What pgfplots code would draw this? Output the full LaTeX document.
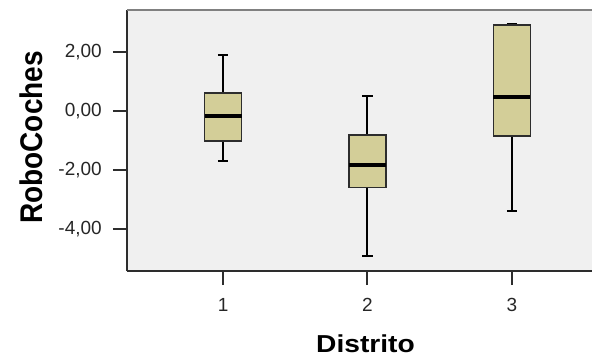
\documentclass[border=0pt]{standalone}
\usepackage{pgfplots}
\pgfplotsset{compat=1.18}
\usepgfplotslibrary{statistics}
\usepackage{fontspec}
\setmainfont{Liberation Sans}
\definecolor{bgc}{RGB}{240,240,240}
\definecolor{boxc}{RGB}{211,206,152}
\definecolor{edgec}{RGB}{45,45,45}
\begin{document}
\begin{tikzpicture}
\useasboundingbox (0,0) rectangle (592pt,-361pt);
\begin{axis}[
  at={(127pt,-271pt)}, anchor=south west,
  scale only axis, width=480.9pt, height=261pt,
  xmin=0.335, xmax=3.665, ymin=-5.44, ymax=3.445,
  separate axis lines,
  axis x line*=bottom, axis y line*=left,
  axis line style={line width=2.5pt, color=edgec},
  axis background/.style={fill=bgc},
  xtick={1,2,3}, ytick={-4,-2,0,2},
  tick align=outside, major tick length=14pt,
  tick style={line width=2pt, color=edgec},
  /pgf/number format/.cd, fixed, fixed zerofill, precision=2, use comma, assume math mode=true,
  /pgfplots/.cd,
  yticklabel style={font=\fontsize{19}{19}\selectfont, color=black!85, inner sep=0pt, xshift=-11pt},
  xticklabel style={font=\fontsize{19}{19}\selectfont, color=black!85, inner sep=0pt, yshift=-13pt},
  xticklabel={\pgfmathprintnumber[fixed, precision=0]{\tick}},
  ylabel={\scalebox{1}[1.12]{RoboCoches}},
  xlabel={\scalebox{1.15}[1]{Distrito}},
  every axis y label/.style={at={(axis description cs:0,0.5)}, xshift=-95.5pt, yshift=3pt, rotate=90, anchor=center, font=\fontsize{28}{28}\selectfont\bfseries},
  every axis x label/.style={at={(axis description cs:0.496,0)}, anchor=base, yshift=-81pt, font=\fontsize{24.5}{24.5}\selectfont\bfseries},
  boxplot/draw direction=y,
  boxplot/every box/.style={draw=edgec, line width=1.5pt, fill=boxc},
  boxplot/every median/.style={draw=black, line width=4pt},
  boxplot/every whisker/.style={draw=black, line width=2pt},
  clip=false,
]
\addplot[boxplot prepared={draw position=1, lower whisker=-1.71, lower quartile=-1.01, median=-0.17, upper quartile=0.62, upper whisker=1.93, box extend=0.256, whisker extend=0.07}] coordinates {};
\addplot[boxplot prepared={draw position=2, lower whisker=-4.92, lower quartile=-2.59, median=-1.82, upper quartile=-0.81, upper whisker=0.52, box extend=0.256, whisker extend=0.07}] coordinates {};
\addplot[boxplot prepared={draw position=3, lower whisker=-3.40, lower quartile=-0.84, median=0.47, upper quartile=2.93, upper whisker=2.96, box extend=0.256, whisker extend=0.07}] coordinates {};
\draw[line width=1.5pt, color=black!50] (rel axis cs:0,1) -- (rel axis cs:1,1);
\end{axis}
\end{tikzpicture}
\end{document}
